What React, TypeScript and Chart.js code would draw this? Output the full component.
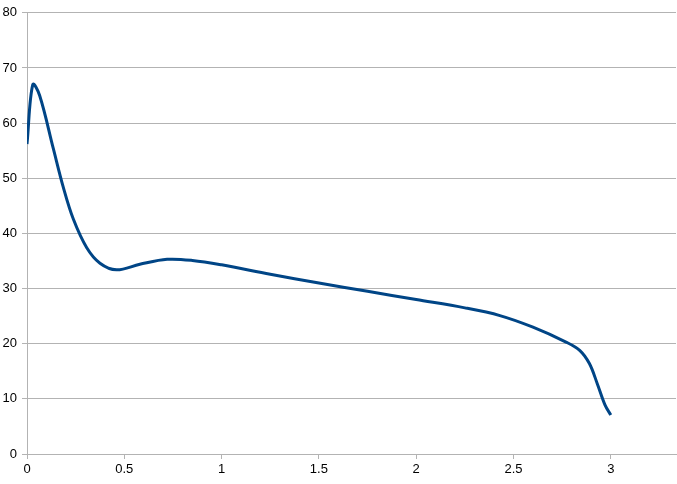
import React, { useEffect, useRef } from "react";
import { Chart, registerables } from "chart.js";

Chart.register(...registerables);

const xValues = [0, 0.03, 0.065, 0.135, 0.187, 0.238, 0.307, 0.375, 0.46, 0.58, 0.72, 0.85, 1.0, 1.25, 1.5, 1.75, 2.0, 2.25, 2.43, 2.6, 2.77, 2.84, 2.89, 2.93, 2.97, 3.0];
const yValues = [56.2, 67.0, 65.0, 55.4, 48.3, 42.6, 37.4, 34.6, 33.4, 34.4, 35.3, 35.1, 34.3, 32.6, 31.0, 29.5, 28.0, 26.5, 25.1, 23.0, 20.3, 18.8, 16.4, 12.8, 8.9, 7.05];
const yTicks = [0, 10, 20, 30, 40, 50, 60, 70, 80];

export default function App() {
  const ref = useRef<HTMLCanvasElement | null>(null);
  useEffect(() => {
    if (!ref.current) return;
    const data = xValues.map((x, i) => ({ x, y: yValues[i] }));
    const chart = new Chart(ref.current, {
      type: "line",
      data: {
        datasets: [
          {
            data,
            borderColor: "#004586",
            borderWidth: 3,
            pointRadius: 0,
            tension: 0.35,
            fill: false,
          },
        ],
      },
      options: {
        animation: false,
        responsive: false,
        devicePixelRatio: 1,
        layout: { padding: { top: 11, right: 1, left: 0, bottom: 0 } },
        plugins: { legend: { display: false }, tooltip: { enabled: false } },
        scales: {
          x: {
            type: "linear",
            min: 0,
            max: 3.335,
            afterBuildTicks: (s: any) => {
              s.ticks = s.ticks.filter((t: any) => Math.abs(t.value * 2 - Math.round(t.value * 2)) < 1e-6);
            },
            afterFit: (s: any) => {
              s.height = 30;
            },
            ticks: {
              stepSize: 0.5,
              color: "#000",
              font: { family: "Liberation Sans", size: 13 },
              padding: 3,
              maxRotation: 0,
              callback: (v: any) => String(Math.round(Number(v) * 10) / 10),
            },
            grid: {
              drawOnChartArea: false,
              drawTicks: true,
              tickLength: 5,
              color: "#b3b3b3",
            },
            border: { display: true, color: "#b3b3b3", width: 1 },
          },
          y: {
            min: 0,
            max: 80,
            afterBuildTicks: (s: any) => {
              s.ticks = yTicks.map((v) => ({ value: v }));
            },
            afterFit: (s: any) => {
              s.width = 27;
            },
            ticks: {
              stepSize: 10,
              color: "#000",
              font: { family: "Liberation Sans", size: 13 },
              padding: 5,
            },
            grid: { color: "#b3b3b3", tickLength: 5, lineWidth: 1 },
            border: { display: true, color: "#b3b3b3", width: 1 },
          },
        },
      },
    });
    return () => chart.destroy();
  }, []);
  return (
    <div style={{ position: "fixed", left: 0, top: 0, width: 677, height: 484, background: "#fff" }}>
      <canvas ref={ref} width={677} height={484} style={{ width: 677, height: 484 }} />
    </div>
  );
}
